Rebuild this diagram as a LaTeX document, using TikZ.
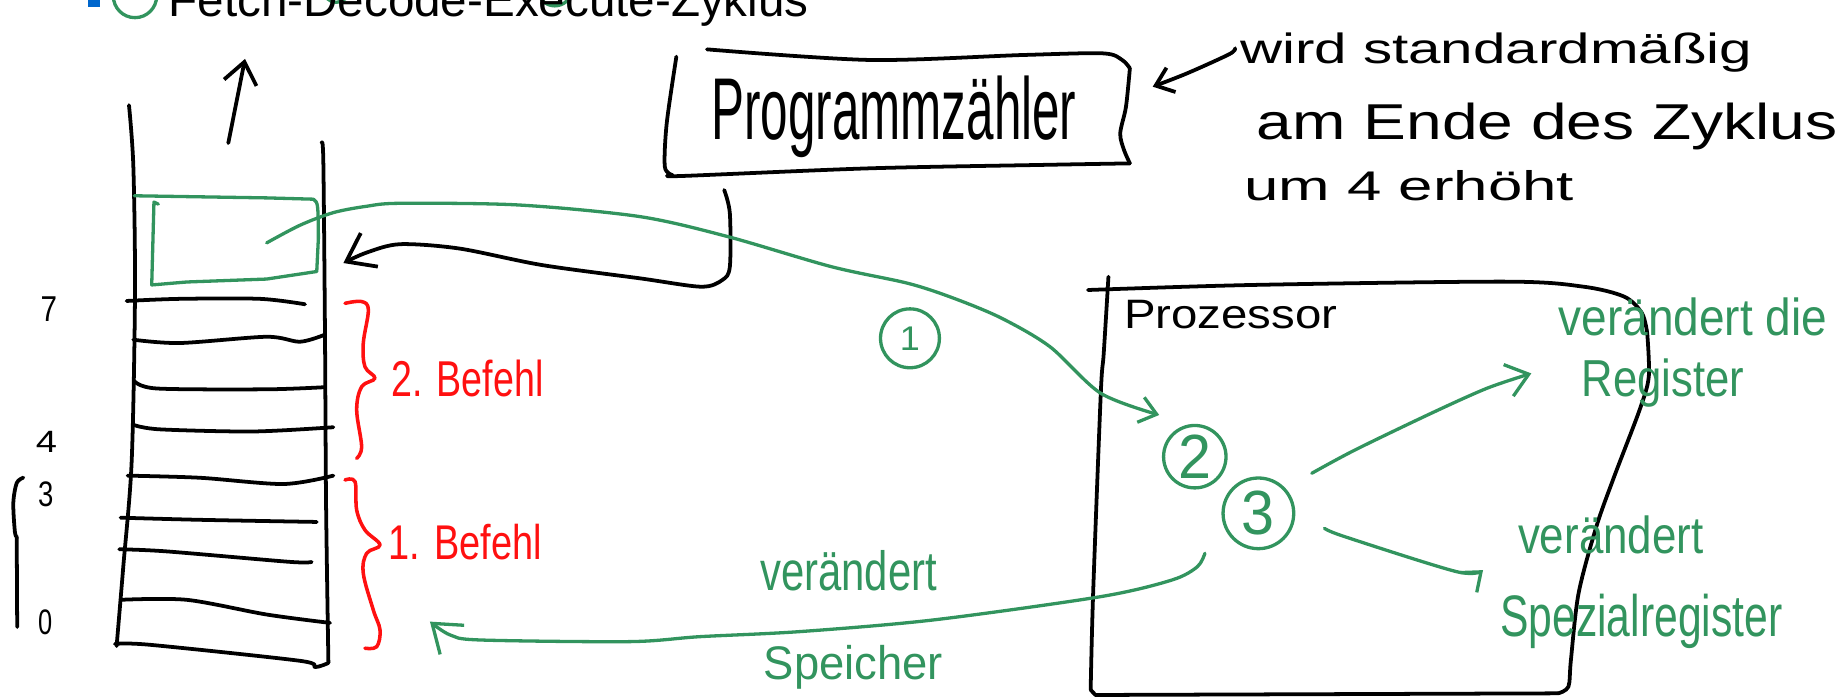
\documentclass[tikz,border=0pt]{standalone}
\usepackage{graphicx}
\usepackage{fontspec}
\setmainfont{Liberation Sans}
\usetikzlibrary{arrows.meta}
\definecolor{hgreen}{RGB}{50,148,94}
\definecolor{hred}{RGB}{255,16,16}
\definecolor{slideblue}{RGB}{0,102,204}
\begin{document}
\begin{tikzpicture}[x=0.5pt,y=-0.5pt,
  ink/.style={line width=1.6pt,line cap=round,line join=round},
  gink/.style={ink,draw=hgreen,line width=1.4pt},
  rink/.style={ink,draw=hred,line width=1.5pt},
  txt/.style={inner sep=0pt,anchor=base west},
  gtxt/.style={txt,text=hgreen},
  rtxt/.style={txt,text=hred},
  num/.style={circle,draw=hgreen,line width=1.4pt,inner sep=0pt,text=hgreen},
  tipbig/.style={-{Straight Barb[length=11pt,width=16pt]}},
  tipmid/.style={-{Straight Barb[length=9pt,width=14pt]}},
  tipsmall/.style={-{Straight Barb[length=7pt,width=11pt]}}]
\useasboundingbox (0,0) rectangle (1568,593);

% slide title (cut off at the top)
\fill[slideblue] (75,-3) rectangle (85,5.7);
\draw[gink] (114.6,-3.4) circle (18.4);
\draw[gink] (285.5,-9) circle (11);
\draw[gink] (471,-9.5) circle (14.5);
\node[txt,font=\fontsize{20.2}{24}\selectfont] (title) at (142.7,14.1) {Fetch-Decode-Execute-Zyklus};

% memory column
\draw[ink] plot[smooth] coordinates {(109.5,89.3) (113.2,141.2) (114.6,248.3) (111.8,391.3) (104.7,480.6) (99,548.5)};
\draw[ink] plot[smooth] coordinates {(273.1,121.5) (274.5,137.6) (275.9,284.1) (276.8,427) (278.8,562.8)};
\draw[ink] plot[smooth] coordinates {(107.5,255.5) (152.8,253.7) (220.7,253.7) (258.9,258.3)};
\draw[ink] plot[smooth] coordinates {(113.2,288.4) (152.8,291.2) (226.4,285.9) (254.7,290.1) (275.9,284.1)};
\draw[ink] plot[smooth] coordinates {(114,323.4) (133,329.8) (226.4,330.5) (275.9,328.7)};
\draw[ink] plot[smooth] coordinates {(114,360.9) (135.8,364.5) (215.1,366.3) (283,362.7)};
\draw[ink] plot[smooth] coordinates {(108.4,403.8) (169.8,405.6) (240.6,410.9) (283,403.8)};
\draw[ink] plot[smooth] coordinates {(102.4,439.5) (169.8,441.3) (268.9,443.1)};
\draw[ink] plot[smooth] coordinates {(101.3,466.3) (141.5,468.1) (246.2,477) (264.6,477)};
\draw[ink] plot[smooth] coordinates {(102.4,509.2) (158.5,509.2) (226.4,521.7) (280.2,528.8)};
\draw[ink] plot[smooth] coordinates {(97.6,546.7) (127.4,547.4) (254.7,561) (267.4,566.3) (278.8,562.8)};

% up arrow above the memory
\coordinate (upstart) at (193.8,121.5);
\coordinate (uptip) at (208,50);
\draw[ink,tipmid] (upstart) -- (uptip);

% addresses on the left
\node[txt] (a7) at (34,273) {\resizebox{7pt}{10.5pt}{7}};
\node[txt] (a4) at (30,384) {\resizebox{9pt}{9pt}{4}};
\node[txt] (a3) at (32,430) {\resizebox{6.5pt}{10.5pt}{3}};
\node[txt] (a0) at (32,539) {\resizebox{6pt}{10.5pt}{0}};
\draw[ink] plot[smooth] coordinates {(19.8,405.5) (14.2,410) (11.3,427) (12.7,452) (14.6,456)};
\draw[ink] (14.2,457) -- (14.6,532.3);

% green cell in the memory
\draw[gink] (114,166.2) -- (226.4,168) -- (266,169.1)
  .. controls (270,172) .. (270.3,201.9) -- (268.9,230.5)
  -- (226.4,236.9) -- (158.5,239.4) -- (128.8,241.9)
  -- (129.6,212.6) -- (130.7,171.5) -- (134.4,173.3);

% red braces
\draw[rink] plot[smooth,tension=0.6] coordinates {(292.9,257.5) (307,256) (312.7,263.2) (308.4,291.4) (309.8,311.3) (318.3,321.1) (307,328.3) (302.8,348) (307,379.2) (302.8,389.1)};
\draw[rink] plot[smooth,tension=0.6] coordinates {(292.9,407.5) (301.4,408.9) (302.8,433) (309.8,449.9) (322.6,462.6) (311.3,469.7) (308.4,486.7) (316.9,517.8) (322.6,534.8) (319.8,549) (309.8,550.3)};
\node[rtxt] (b2) at (332,336.6) {\resizebox{64.5pt}{15.5pt}{2. Befehl}};
\node[rtxt] (b1) at (329.6,475.4) {\resizebox{65pt}{15pt}{1. Befehl}};

% Programmzaehler
\draw[ink] plot[smooth] coordinates {(600.2,41.9) (738.2,50.9) (868.2,46.7) (936.3,45.3) (952.6,50.9) (959.2,58)};
\draw[ink] plot[smooth] coordinates {(959.2,58) (955.9,90.5) (951,113.2) (954.2,127.3) (959.2,138.7)};
\draw[ink] plot[smooth] coordinates {(959.2,138.7) (884.4,140) (738.2,142.9) (579,149.4) (570.9,148.6)};
\draw[ink] plot[smooth] coordinates {(570.9,148.6) (564.4,141.5) (566,104.7) (574.2,48.1)};
\node[txt] (pc) at (603.4,118.8) {\resizebox{155pt}{27pt}{Programmzähler}};

% annotation
\node[txt] (n1) at (1052.3,53.7) {\resizebox{217.5pt}{13pt}{wird standardmäßig}};
\node[txt] (n2) at (1066.7,118.8) {\resizebox{246.5pt}{15.5pt}{am Ende des Zyklus}};
\node[txt] (n3) at (1055.9,169.8) {\resizebox{140pt}{12.75pt}{um 4 erhöht}};
\coordinate (annstart) at (1048.6,41);
\coordinate (pcin) at (978.6,73.6);
\draw[ink,tipsmall] plot[smooth] coordinates {(annstart) (1043.6,46) (1007.9,62.2) (pcin)};

% Programmzaehler -> memory
\coordinate (pcout) at (614.8,161.3);
\coordinate (memin) at (291.5,223.3);
\draw[ink,tipbig] plot[smooth,tension=0.5] coordinates {(pcout) (619.6,181.1) (619.6,226.4) (613.2,237.7) (595.2,243.4) (543.3,236.3) (460,225) (390,211) (339.6,207.3) (311.3,214.4) (memin)};

% processor
\draw[ink] plot[smooth] coordinates {(941,234.9) (937,300) (934.5,333.9) (928,503.7) (925.9,585.7)};
\draw[ink] plot[smooth] coordinates {(923.6,246.2) (1064,241.9) (1279.7,239.1) (1344.4,243.4) (1379,251.9) (1394,266) (1398.4,283)};
\draw[ink] plot[smooth] coordinates {(1398.4,283) (1399.7,319.8) (1391.9,348) (1370.3,404.7) (1355.2,447.1) (1340.1,503.7) (1333.6,560.3) (1331.5,582.9) (1322.8,588.6)};
\draw[ink] (925.9,585.7) -- (930,590) -- (1322.8,588.6);
\node[txt] (proc) at (954,278.6) {\resizebox{90.5pt}{12pt}{Prozessor}};

% numbered steps
\node[num,minimum size=25pt] (c1) at (772.5,287.2) {\resizebox{8.5pt}{10pt}{1}};
\node[num,minimum size=26.5pt] (c2) at (1014.3,387.7) {\resizebox{14pt}{18.5pt}{2}};
\node[num,minimum size=30pt] (c3) at (1068.3,435.8) {\resizebox{14pt}{18.5pt}{3}};

% memory cell -> processor
\coordinate (boxin) at (226.4,206.2);
\coordinate (c2in) at (984.1,352.3);
\draw[gink,tipsmall] plot[smooth] coordinates {(boxin) (254.7,191.2) (283,180.5) (311.3,175.1) (339.6,172.6) (440,174) (543.3,183.9) (618,200.9) (705.8,226.4) (770.7,240.5) (809.7,253.2) (850,270) (891.3,294.3) (934.5,333.9) (c2in)};

% step 3 effects
\coordinate (c3a) at (1113.6,401.8);
\coordinate (regin) at (1300,317);
\draw[gink,tipmid] plot[smooth] coordinates {(c3a) (1150.3,382) (1214.9,350.9) (1262.4,329.6) (regin)};
\coordinate (c3b) at (1124.4,448.5);
\coordinate (spin) at (1259,484);
\draw[gink,tipsmall] plot[smooth] coordinates {(c3b) (1141.6,455.6) (1236.5,485.3) (spin)};
\coordinate (c3c) at (1022.9,469.7);
\coordinate (memin2) at (365,527.7);
\draw[gink,tipbig] plot[smooth] coordinates {(c3c) (1016.5,481.1) (994.9,492.4) (934.5,506.5) (792.3,526.3) (679,536.2) (594,540.5) (534.8,544.7) (407.5,543.3) (382,539) (memin2)};

\node[gtxt] (r1) at (1322.8,284.4) {\resizebox{114pt}{16pt}{verändert die}};
\node[gtxt] (r2) at (1342.3,336.7) {\resizebox{69pt}{16pt}{Register}};
\node[gtxt] (s1) at (1288.3,469.7) {\resizebox{78.75pt}{16pt}{verändert}};
\node[gtxt] (s2) at (1273.2,540.5) {\resizebox{119.75pt}{18pt}{Spezialregister}};
\node[gtxt] (m1) at (645,501) {\resizebox{75pt}{17pt}{verändert}};
\node[gtxt] (m2) at (648,577.2) {\resizebox{76pt}{14.5pt}{Speicher}};
\end{tikzpicture}
\end{document}
